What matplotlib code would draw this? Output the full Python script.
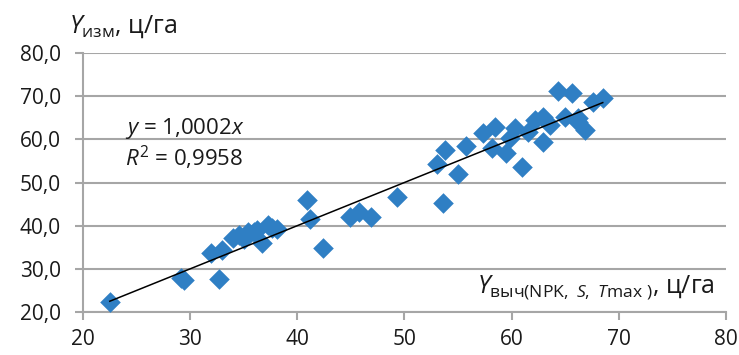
import matplotlib
matplotlib.use("Agg")
import matplotlib.pyplot as plt
import numpy as np

plt.rcParams["font.family"] = ["Open Sans", "DejaVu Sans"]
plt.rcParams["mathtext.fontset"] = "custom"
plt.rcParams["mathtext.rm"] = "Open Sans"
plt.rcParams["mathtext.it"] = "Open Sans:italic"

# computed yield (x) vs measured yield (y), c/ha
y_calc = [22.5, 29.1, 29.4, 32.7, 31.9, 33.0, 34.0, 34.6, 35.0, 35.4, 36.0,
          36.2, 36.7, 37.3, 37.6, 38.1, 40.9, 41.2, 42.4, 44.9, 45.8, 46.9,
          49.3, 53.0, 53.6, 53.8, 55.0, 55.7, 57.3, 58.4, 58.2, 59.5, 59.8,
          60.3, 61.0, 61.5, 62.2, 62.9, 62.9, 63.6, 64.3, 65.6, 65.0, 66.2,
          66.2, 66.8, 67.6, 68.5]
y_meas = [22.3, 27.9, 27.4, 27.6, 33.7, 34.4, 37.1, 37.8, 37.0, 38.5, 38.5,
          39.0, 36.0, 40.1, 39.5, 39.2, 45.9, 41.5, 34.8, 42.0, 43.1, 42.0,
          46.6, 54.2, 45.2, 57.5, 52.0, 58.4, 61.4, 62.8, 58.0, 56.8, 60.3,
          62.6, 53.6, 61.7, 64.4, 65.1, 59.4, 63.3, 71.2, 70.7, 65.1, 64.9,
          64.0, 62.1, 68.6, 69.5]
slope = 1.0002
r2 = 0.9958

x_ticks = [20, 30, 40, 50, 60, 70, 80]
y_ticks = [20, 30, 40, 50, 60, 70, 80]

fig = plt.figure(figsize=(7.39, 3.55), dpi=100)
ax = fig.add_axes([0.1123, 0.121, 0.8701, 0.7297])

grey = "#a6a6a6"
ink = "#1a1a1a"
ax.scatter(y_calc, y_meas, marker="D", s=110, color="#2f7fc4", linewidths=0, zorder=3)
xs = np.array([min(y_calc), max(y_calc)])
ax.plot(xs, slope * xs, color="black", lw=1.1, zorder=4)

ax.set_xlim(20, 80)
ax.set_ylim(20, 80)
ax.set_xticks(x_ticks)
ax.set_yticks(y_ticks)
ax.set_xticklabels([str(v) for v in x_ticks])
ax.set_yticklabels([f"{v:.1f}".replace(".", ",") for v in y_ticks])
ax.yaxis.grid(True, color=grey, lw=1.5)
ax.set_axisbelow(True)
for side in ["top", "right"]:
    ax.spines[side].set_visible(False)
for side in ["left", "bottom"]:
    ax.spines[side].set_color(grey)
    ax.spines[side].set_linewidth(1.5)
ax.tick_params(axis="both", colors=grey, length=6, width=1.5, labelsize=15,
               labelcolor=ink)
ax.tick_params(axis="y", pad=10)
ax.tick_params(axis="x", pad=6)

fig.text(0.094, 0.925, r"$\mathit{Y}_{\mathrm{изм}}$, ц/га", fontsize=18,
         color=ink, va="center")
ax.text(0.983, 0.097, r"$\mathit{Y}_{\mathrm{выч(NPK,}\ \mathit{S},\ \mathit{T}\mathrm{max}\ )}$, ц/га",
        transform=ax.transAxes, ha="right", va="center", fontsize=18, color=ink)
ax.text(0.066, 0.71, f"$\\mathit{{y}}$ = {slope:.4f}$\\mathit{{x}}$".replace(".", ","),
        transform=ax.transAxes, fontsize=16, color=ink, va="center")
ax.text(0.066, 0.595, f"$\\mathit{{R}}^2$ = {r2:.4f}".replace(".", ","),
        transform=ax.transAxes, fontsize=16, color=ink, va="center")

fig.savefig("out.png", dpi=100)
